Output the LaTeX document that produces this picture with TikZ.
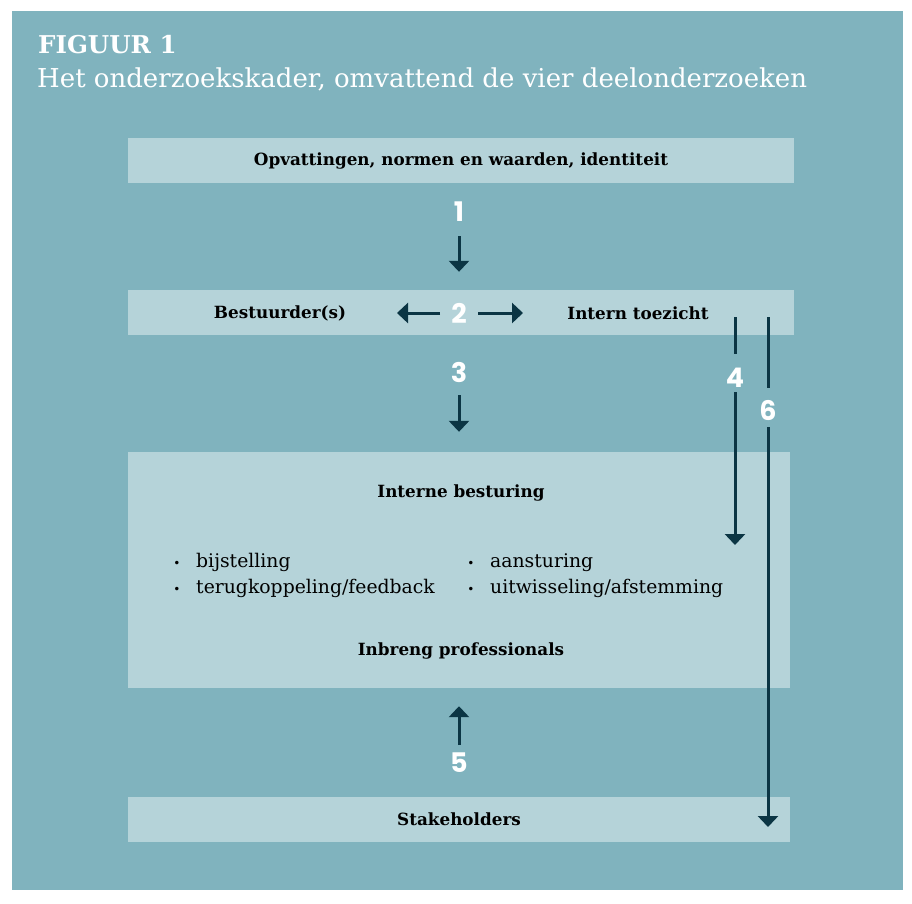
\documentclass[tikz,border=0pt]{standalone}
\usepackage{fontspec}
\setmainfont{DejaVu Serif}
\newfontfamily\numfont{Poppins}
\usetikzlibrary{arrows.meta,positioning,calc}

\definecolor{teal}{HTML}{80B3BE}
\definecolor{pale}{HTML}{B5D3D9}
\definecolor{ink}{HTML}{0B3544}

\begin{document}
\begin{tikzpicture}[
x=1pt, y=-1pt,
box/.style={
  fill=pale,
  draw=none,
  minimum height=45pt,
  inner sep=0pt,
  font=\fontsize{16.8}{19}\selectfont\bfseries,
  text=black
  },
num/.style={
  text=white,
  inner sep=0pt,
  font=\numfont\fontsize{27}{28}\selectfont\bfseries
  },
item/.style={
  anchor=base west,
  inner sep=0pt,
  font=\fontsize{18.8}{20}\selectfont,
  text=black
  },
dot/.style={
  anchor=base,
  inner sep=0pt,
  font=\fontsize{12}{14}\selectfont,
  text=black
  },
arr/.style={
  draw=ink,
  line width=3pt,
  -{Triangle[width=20pt,length=11pt]}
  },
bar/.style={
  draw=ink,
  line width=3pt
  }
]
\useasboundingbox (0,0) rectangle (912,903);
\fill[white] (0,0) rectangle (912,903);
\fill[teal] (12,11) rectangle (903,890);

% titel
\node[anchor=base west, inner sep=0pt, text=white,
  font=\fontsize{24.5}{26}\selectfont\bfseries] (fig) at (38,53) {FIGUUR 1};
\node[anchor=base west, inner sep=0pt, text=white,
  font=\fontsize{26}{28}\selectfont] (sub) at (37,87)
  {Het onderzoekskader, omvattend de vier deelonderzoeken};

% vakken
\node[box, minimum width=666pt] (opv) at (461,160.5) {Opvattingen, normen en waarden, identiteit};
\node[box, minimum width=666pt] (bst) at (461,312.5) {};
\node[box, minimum height=236pt, minimum width=662pt] (ib) at (459,570) {};
\node[box, minimum width=662pt] (sh) at (459,819) {Stakeholders};

\node[box, fill=none] (bestuurder) at (280,313) {Bestuurder(s)};
\node[box, fill=none] (toezicht) at (638,313) {Intern toezicht};
\node[box, fill=none, minimum height=0pt] (intern) at (461,493) {Interne besturing};
\node[box, fill=none, minimum height=0pt] (inbreng) at (461,651) {Inbreng professionals};

% opsomming
\node[dot] (d1) at (177,567) {•};
\node[item] (b1) at (196,567) {bijstelling};
\node[dot] (d2) at (177,593) {•};
\node[item] (b2) at (196,593) {terugkoppeling/feedback};
\node[dot] (d3) at (471,567) {•};
\node[item] (b3) at (490,567) {aansturing};
\node[dot] (d4) at (471,593) {•};
\node[item] (b4) at (490,593) {uitwisseling/afstemming};

% nummers
\node[num] (n1) at (459,212) {1};
\node[num] (n2) at (459,313) {2};
\node[num] (n3) at (459,372) {3};
\node[num] (n4) at (735,378) {4};
\node[num] (n5) at (459,763) {5};
\node[num] (n6) at (768,410) {6};

\coordinate (l2) at (397,313);
\coordinate (r2) at (523,313);
\coordinate (t4) at (735,317);
\coordinate (e4) at (735,545);
\coordinate (t6) at (768,317);
\coordinate (e6) at (768,827);

% pijlen
\draw[arr, shorten <=24pt, shorten >=18pt] (n1.center) -- (n1 |- bst.north);
\draw[arr, shorten <=19pt] (n2.center) -- (l2);
\draw[arr, shorten <=19pt] (n2.center) -- (r2);
\draw[arr, shorten <=23pt, shorten >=20pt] (n3.center) -- (n3 |- ib.north);
\draw[arr, shorten <=18pt, shorten >=18pt] (n5.center) -- (n5 |- ib.south);
\draw[bar, shorten >=24pt] (t4) -- (n4.center);
\draw[arr, shorten <=14pt] (n4.center) -- (e4);
\draw[bar, shorten >=22pt] (t6) -- (n6.center);
\draw[arr, shorten <=17pt] (n6.center) -- (e6);
\end{tikzpicture}
\end{document}
